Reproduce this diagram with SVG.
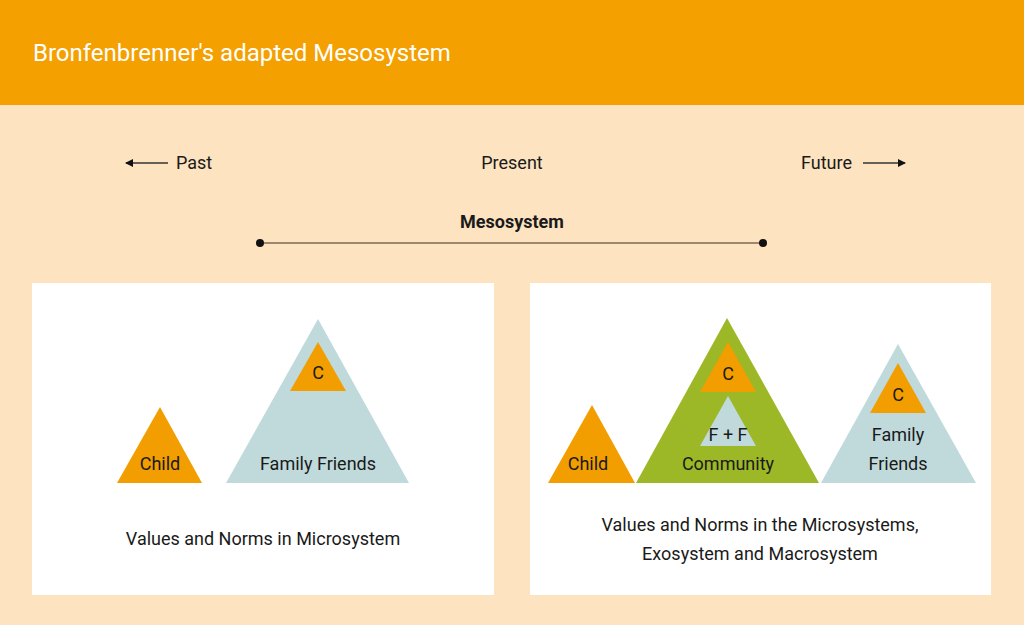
<svg xmlns="http://www.w3.org/2000/svg" width="1024" height="625" viewBox="0 0 1024 625">
<style>
text{font-family:Roboto,"Liberation Sans",sans-serif;fill:#1a1a1a;font-size:18px}
.c{text-anchor:middle}
.o{fill:#F29E00}.b{fill:#C0DADC}.g{fill:#9DB827}
</style>
<defs>
<marker id="ah" markerWidth="8" markerHeight="8" refX="7" refY="4" orient="auto" markerUnits="userSpaceOnUse"><path d="M0,0L8,4L0,8z" fill="#111"/></marker>
<marker id="dot" markerWidth="10" markerHeight="10" refX="5" refY="5" markerUnits="userSpaceOnUse"><circle cx="5" cy="5" r="4" fill="#111"/></marker>
</defs>
<rect width="1024" height="625" fill="#FDE3C0"/>
<rect width="1024" height="105" fill="#F4A000"/>
<text x="33" y="61" style="fill:#fff;font-size:24px">Bronfenbrenner's adapted Mesosystem</text>
<g id="timeline">
<text x="176" y="169">Past</text>
<text x="512" y="169" class="c">Present</text>
<text x="801" y="169">Future</text>
<text x="512" y="228" class="c" style="font-weight:bold">Mesosystem</text>
</g>
<g id="connectors" stroke="#333" stroke-width="1.5" fill="none">
<line x1="168" y1="163" x2="126" y2="163" marker-end="url(#ah)"/>
<line x1="863" y1="163" x2="905" y2="163" marker-end="url(#ah)"/>
<line x1="260" y1="243" x2="763" y2="243" stroke="#7a6a55" marker-start="url(#dot)" marker-end="url(#dot)"/>
</g>
<g id="left-panel">
<rect x="32" y="283" width="462" height="312" fill="#fff"/>
<polygon class="o" points="117,483 202,483 160,407"/>
<text x="160" y="470" class="c">Child</text>
<polygon class="b" points="226,483 409,483 318,319"/>
<polygon class="o" points="290,391 346,391 318,342"/>
<text x="318" y="379" class="c">C</text>
<text x="318" y="470" class="c">Family Friends</text>
<text x="263" y="545" class="c">Values and Norms in Microsystem</text>
</g>
<g id="right-panel">
<rect x="530" y="283" width="461" height="312" fill="#fff"/>
<polygon class="o" points="548,483 635,483 592,405"/>
<text x="588" y="470" class="c">Child</text>
<polygon class="g" points="636,483 819,483 727,318"/>
<polygon class="o" points="700,392 756,392 728,342"/>
<text x="728" y="380" class="c">C</text>
<polygon class="b" points="700,446 756,446 728,396"/>
<text x="728" y="441" class="c">F + F</text>
<text x="728" y="470" class="c">Community</text>
<polygon class="b" points="821,483 976,483 898,344"/>
<polygon class="o" points="870,413 926,413 898,363"/>
<text x="898" y="401" class="c">C</text>
<text x="898" y="441" class="c">Family</text>
<text x="898" y="470" class="c">Friends</text>
<text x="760" y="531" class="c">Values and Norms in the Microsystems,</text>
<text x="760" y="560" class="c">Exosystem and Macrosystem</text>
</g>
</svg>
